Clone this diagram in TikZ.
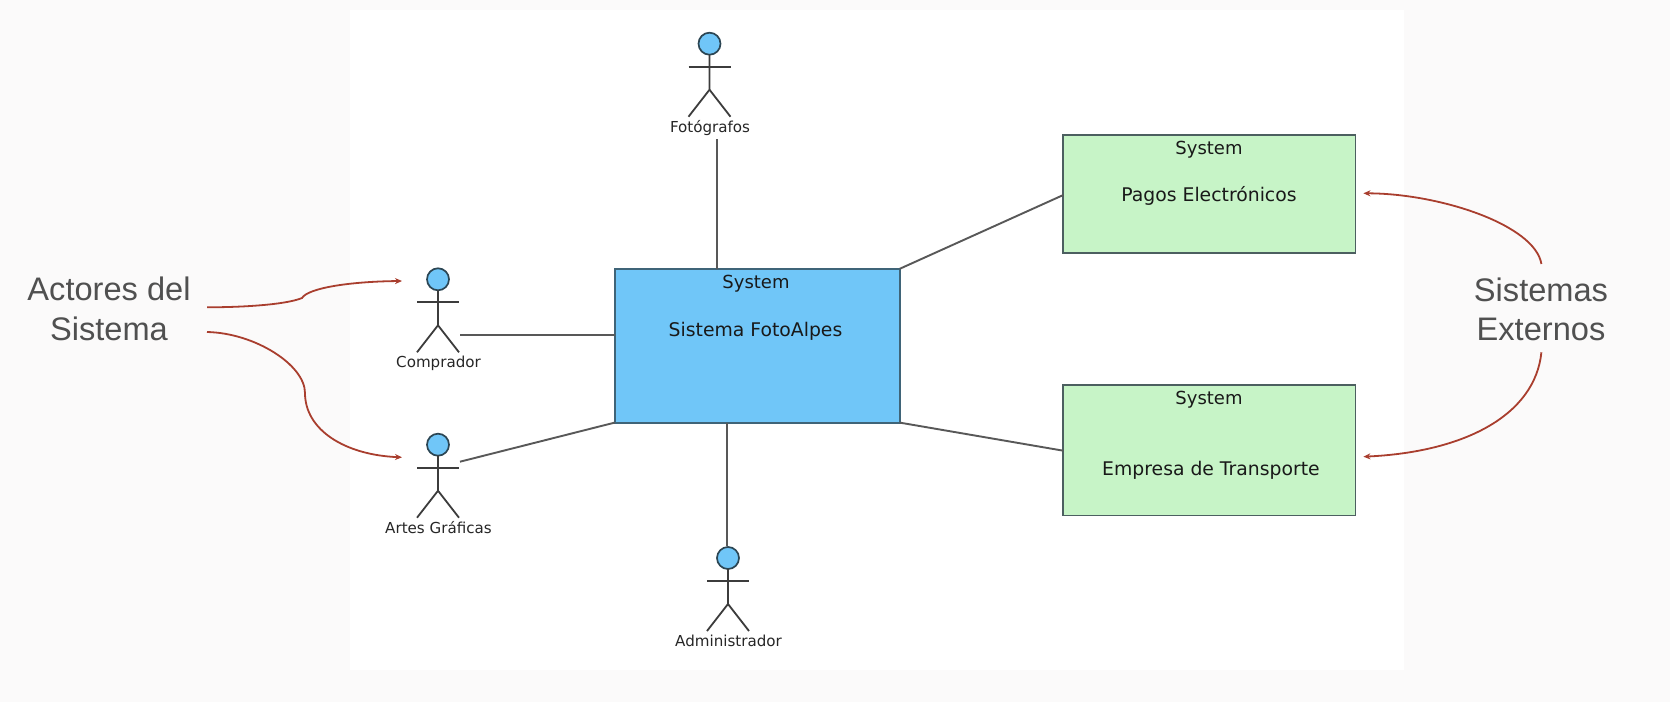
\documentclass[tikz,border=0pt]{standalone}
\usepackage{fontspec}
\setmainfont{Liberation Sans}
\newfontfamily\umlfont{DejaVu Sans}
\usetikzlibrary{arrows.meta}
\definecolor{pagebg}{HTML}{FBFAFA}
\definecolor{bluefill}{HTML}{70C6F8}
\definecolor{greenfill}{HTML}{C7F4C7}
\definecolor{boxedge}{HTML}{4C5F60}
\definecolor{blueedge}{HTML}{3F6478}
\definecolor{linkgrey}{HTML}{585858}
\definecolor{stickgrey}{HTML}{3C3C3C}
\definecolor{notered}{HTML}{A93E2E}
\definecolor{notegrey}{HTML}{505050}
\tikzset{
  x=1pt,y=-1pt,
  sysbox/.style={draw=boxedge,line width=1.9pt,fill=greenfill,inner sep=0pt,outer sep=0pt,anchor=north west},
  sysblue/.style={sysbox,draw=blueedge,fill=bluefill},
  boxname/.style={inner sep=0pt,anchor=base,font=\umlfont\fontsize{18.8}{22}\selectfont,text=black!90},
  boxtype/.style={inner sep=0pt,anchor=base,font=\umlfont\fontsize{18}{22}\selectfont,text=black!90},
  actorhead/.style={circle,draw=blueedge!70!black,line width=1.7pt,fill=bluefill,minimum size=22pt,inner sep=0pt,outer sep=0pt},
  stick/.style={draw=stickgrey,line width=1.8pt},
  actorlabel/.style={inner sep=0pt,anchor=base,font=\umlfont\fontsize{15.1}{18}\selectfont,text=black!85},
  link/.style={draw=linkgrey,line width=1.9pt},
  notetext/.style={inner sep=0pt,align=center,font=\fontsize{32.6}{39.5}\selectfont,text=notegrey},
  notearrow/.style={draw=notered,line width=1.8pt,-{Stealth[length=7pt,width=6pt]}}
}
% #1 name, #2 x, #3 head y, #4 label text
\newcommand{\umlactor}[4]{%
  \node[actorhead] (#1) at (#2,#3) {};
  \draw[stick] (#1.south) -- (#2,#3+46) coordinate (#1hip)
    -- (#2-21,#3+73);
  \draw[stick] (#1hip) -- (#2+21,#3+73);
  \draw[stick] (#2-21,#3+23) -- (#2+21,#3+23);
  \node[actorlabel] (#1label) at (#2+0.5,#3+88.5) {#4};
}
\begin{document}
\begin{tikzpicture}
\useasboundingbox (0,0) rectangle (1670,702);
\fill[pagebg] (0,0) rectangle (1670,702);
\fill[white] (350,10) rectangle (1404,670);

% systems
\node[sysblue,minimum width=285pt,minimum height=153.8pt] (foto) at (614.7,268.8) {};
\node[sysbox,minimum width=292.2pt,minimum height=118.5pt] (pagos) at (1063.3,134.7) {};
\node[sysbox,minimum width=292.2pt,minimum height=130.5pt] (empresa) at (1063.3,385) {};

\node[boxtype] (fotoT) at (756,288.3) {System};
\node[boxname] (fotoN) at (755.5,336) {Sistema FotoAlpes};
\node[boxtype] (pagosT) at (1209,154.3) {System};
\node[boxname] (pagosN) at (1209,201.7) {Pagos Electrónicos};
\node[boxtype] (empresaT) at (1209,404.3) {System};
\node[boxname] (empresaN) at (1211,475.7) {Empresa de Transporte};

% actors
\umlactor{fotografos}{709.5}{43.7}{Fotógrafos}
\umlactor{comprador}{438}{279.3}{Comprador}
\umlactor{artes}{438}{444.7}{Artes Gráficas}
\umlactor{admin}{728}{558}{Administrador}

% connector ends
\coordinate (fotN) at (716.7,268.8);
\coordinate (fotS) at (716.7,139);
\coordinate (admN) at (726.7,422.6);
\coordinate (admS) at (726.7,546);
\coordinate (comE) at (460,334.7);
\coordinate (fotW) at (614.7,334.7);
\coordinate (artE) at (460,461.7);
\coordinate (pagosW) at (1063.3,195);
\coordinate (empW) at (1063.3,450.7);

\draw[link] (fotS) -- (fotN);
\draw[link] (admS) -- (admN);
\draw[link] (comE) -- (fotW);
\draw[link] (artE) -- (foto.south west);
\draw[link] (foto.north east) -- (pagosW);
\draw[link] (foto.south east) -- (empW);

% notes
\node[notetext] (actores) at (109,309) {Actores del\\Sistema};
\node[notetext] (externos) at (1541,309.5) {Sistemas\\Externos};

\coordinate (actA) at (207,307.3);
\coordinate (actB) at (207,332);
\coordinate (compT) at (402,281);
\coordinate (artT) at (402,457.3);
\coordinate (extA) at (1541.4,264);
\coordinate (extB) at (1541.4,352.3);
\coordinate (pagT) at (1363.4,193.3);
\coordinate (empT) at (1363.4,456.7);

\draw[notearrow] (actA) .. controls (240,307.3) and (285,305) .. (302,298)
  .. controls (308,288) and (350,281.5) .. (compT);
\draw[notearrow] (actB) .. controls (255,333) and (305,365) .. (305,393)
  .. controls (305,430) and (345,455) .. (artT);
\draw[notearrow] (extA) .. controls (1535,225) and (1440,193.5) .. (pagT);
\draw[notearrow] (extB) .. controls (1535,415) and (1465,452) .. (empT);
\end{tikzpicture}
\end{document}
